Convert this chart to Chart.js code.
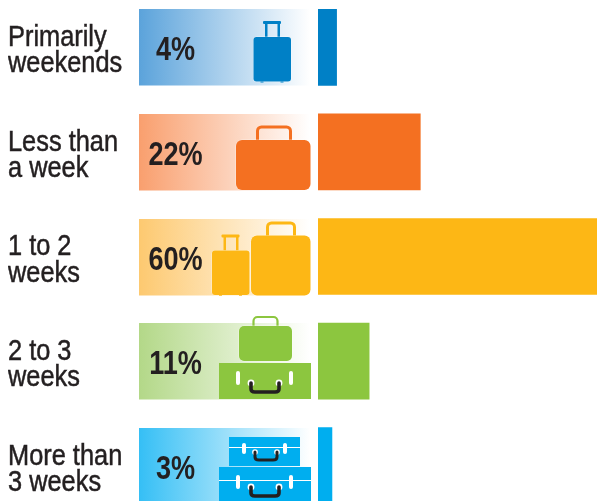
<!DOCTYPE html>
<html><head><meta charset="utf-8">
<style>html,body{margin:0;padding:0;background:#fff;overflow:hidden;width:597px;height:501px}
#wrap{position:relative;width:597px;height:501px;overflow:hidden}
canvas{position:absolute;left:0;top:-5px}</style>
<script src="https://cdn.jsdelivr.net/npm/chart.js@4/dist/chart.umd.js"></script>
</head><body><div id="wrap"><canvas id="c" width="597" height="523"></canvas></div>
<script>
const categories = [["Primarily","weekends"],["Less than","a week"],["1 to 2","weeks"],["2 to 3","weeks"],["More than","3 weeks"]];
const shares = [4,22,60,11,3];
const barColors = ["#0080C6","#F47021","#FDB715","#8CC63F","#00AEEF"];
const panelColors = ["#5BA3DB","#F99F6E","#FDC970","#B3D888","#35BFF5"];
const INK = "#231F20";
const FAMILY = '"Liberation Sans",sans-serif';
const TOP = 5;

function rr(ctx,x,y,w,h,r,fill,halo){
  ctx.beginPath();ctx.roundRect(x,y,w,h,r);
  if(halo){ctx.strokeStyle=halo;ctx.lineWidth=1;ctx.stroke();}
  ctx.fillStyle=fill;ctx.fill();
}
function trolley(ctx,x,y,c){
  ctx.fillStyle=c;
  ctx.fillRect(x+11.5,y-14,2.5,14);ctx.fillRect(x+24,y-14,2.5,14);
  rr(ctx,x+9.5,y-16,18,3,1,c);
  ctx.fillRect(x+7,y+42,3,3.5);ctx.fillRect(x+27,y+42,3,3.5);
  rr(ctx,x,y,37.5,44.5,3,c,"rgba(255,255,255,.5)");
}
function brief(ctx,x,y,w,h,r,hx,hw,ht,lw,c){
  ctx.strokeStyle=c;ctx.lineWidth=lw;
  ctx.beginPath();ctx.roundRect(hx,ht,hw,y-ht+6,4);ctx.stroke();
  rr(ctx,x,y,w,h,r,c,"rgba(255,255,255,.5)");
}
function box(ctx,x,y,w,h,c,lineY,slotA,slotB,slotH,slotY,hx,hw,hy,hh,lw){
  ctx.fillStyle=c;ctx.fillRect(x,y,w,h);
  if(lineY){ctx.fillStyle="#fff";ctx.fillRect(x,lineY,w,1);}
  ctx.fillStyle="#fff";
  [slotA,slotB].forEach(s=>{ctx.beginPath();ctx.roundRect(s-2,slotY,4,slotH,2);ctx.fill();});
  [hx,hx+hw].forEach(s=>{ctx.beginPath();ctx.arc(s,hy,lw*0.95,0,7);ctx.fill();});
  ctx.strokeStyle=INK;ctx.lineWidth=lw;ctx.lineCap="round";
  ctx.beginPath();ctx.moveTo(hx,hy);ctx.lineTo(hx,hy+hh-3);
  ctx.quadraticCurveTo(hx,hy+hh,hx+4,hy+hh);ctx.lineTo(hx+hw-4,hy+hh);
  ctx.quadraticCurveTo(hx+hw,hy+hh,hx+hw,hy+hh-3);ctx.lineTo(hx+hw,hy);ctx.stroke();ctx.lineCap="butt";
}
const luggage = [
  ctx=>trolley(ctx,253.5,37,barColors[0]),
  ctx=>brief(ctx,236,140,74.5,50,6,257.5,33,127,3,barColors[1]),
  ctx=>{trolley(ctx,212,250.5,barColors[2]);brief(ctx,251,235.5,59.5,60,6,267.5,27,223,3,barColors[2]);},
  ctx=>{brief(ctx,239,326,53,35,5,253.5,24,317,2.2,barColors[3]);
        box(ctx,219,363,92,36,barColors[3],0,238,291,14,371,251,28,383,9,3.6);},
  ctx=>{box(ctx,229,437,71,29,barColors[4],447,244,285,11,443,255,22,452,8,3);
        box(ctx,219,467,92,34,barColors[4],480,238,291,14,475,251,28,487,9,3.6);}
];
const panelPlugin = {
  id:"panels",
  afterLayout(chart){
    const s=chart.scales.y, ctx=chart.ctx;
    if(s._narrowed) return;
    s._narrowed=true;
    const orig=s.drawLabels.bind(s);
    s.drawLabels=function(a){
      ctx.save();ctx.translate(8,4);ctx.scale(0.875,1);ctx.translate(-8,0);
      orig(a);ctx.restore();
    };
  },
  afterDatasetsDraw(chart){
    const ctx=chart.ctx, meta=chart.getDatasetMeta(0);
    ctx.save();ctx.translate(0,TOP);
    meta.data.forEach((bar,i)=>{
      const y0=Math.round(bar.y-38-TOP), h=76.5;
      const g=ctx.createLinearGradient(139,0,310,0);
      g.addColorStop(0,panelColors[i]);g.addColorStop(1,"#fff");
      ctx.fillStyle=g;ctx.fillRect(139,y0,171,h);
      luggage[i](ctx);
      ctx.save();
      ctx.translate(175.5,bar.y-TOP+4);ctx.scale(0.82,1);
      ctx.fillStyle=INK;ctx.font='bold 33px '+FAMILY;
      ctx.textAlign="center";ctx.textBaseline="middle";
      ctx.fillText(shares[i]+"%",0,0);
      ctx.restore();
    });
    ctx.restore();
  }
};
new Chart(document.getElementById("c"),{
  type:"bar",
  data:{labels:categories,datasets:[{data:shares,backgroundColor:barColors,barThickness:76,borderWidth:0}]},
  options:{
    indexAxis:"y",responsive:false,animation:false,devicePixelRatio:1,
    layout:{padding:{left:8,right:0,top:0,bottom:0}},
    plugins:{legend:{display:false},tooltip:{enabled:false}},
    scales:{
      x:{display:false,min:0,max:60},
      y:{grid:{display:false},border:{display:false},
         afterFit(s){s.width=310;s.paddingTop=0;s.paddingBottom=0;},
         ticks:{color:INK,crossAlign:"far",padding:0,autoSkip:false,
                textStrokeColor:INK,textStrokeWidth:0.5,
                font:{family:FAMILY,size:29,lineHeight:0.9}}}
    }
  },
  plugins:[panelPlugin]
});
</script></body></html>
